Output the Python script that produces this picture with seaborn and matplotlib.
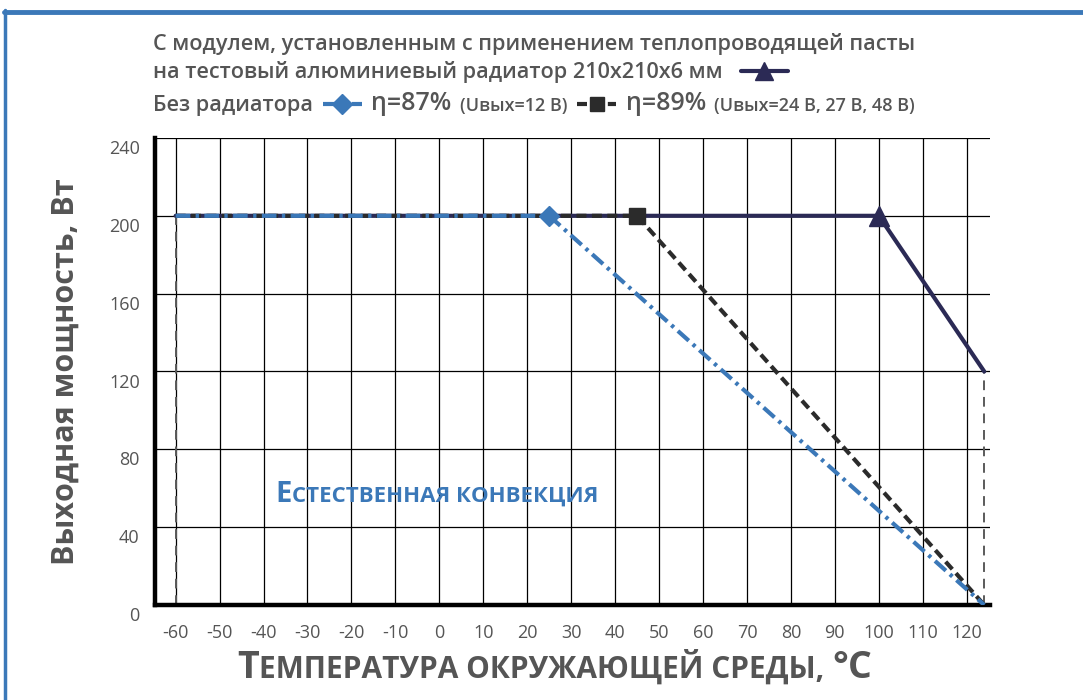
import matplotlib
matplotlib.use("Agg")
import matplotlib.pyplot as plt
import seaborn as sns
from matplotlib.lines import Line2D
from matplotlib.offsetbox import TextArea, DrawingArea, HPacker, AnchoredOffsetbox
from matplotlib.transforms import ScaledTranslation

# данные
t_rad = [-60, 100, 124]      # с радиатором
p_rad = [200, 200, 120]
t_87 = [-60, 25, 124]        # без радиатора, η=87%
p_87 = [200, 200, 0]
t_89 = [-60, 45, 124]        # без радиатора, η=89%
p_89 = [200, 200, 0]
edge_t = [-60, 124]          # границы рабочего диапазона
edge_p = [200, 120]
x_ticks = list(range(-60, 121, 10))
y_ticks = [0, 40, 80, 120, 160, 200, 240]

NAVY = '#2b2a55'
BLUE = '#3b78b8'
BLACK = '#2b2b2b'
GREY = '#555555'
DASHDOT = (0, (3.5, 1.3, 0.8, 1.3))
DASHED = (0, (2.4, 1.3))

sns.set_theme(style="white")
plt.rcParams['font.family'] = ['Open Sans', 'DejaVu Sans']
plt.rcParams['axes.unicode_minus'] = False

fig = plt.figure(figsize=(10.83, 7), dpi=100)
ax = fig.add_axes([0.1431, 0.1357, 0.771, 0.6672])

# рамка
fig.add_artist(Line2D([0.004, 1.0], [0.983, 0.983], transform=fig.transFigure, color=BLUE, lw=3.5))
fig.add_artist(Line2D([0.0043, 0.0043], [0.0, 0.986], transform=fig.transFigure, color=BLUE, lw=2.5))

ax.vlines(edge_t, 0, edge_p, colors='#5a5a5a', lw=1.4, linestyles=(0, (5, 3.5)), zorder=2)

sns.lineplot(x=t_rad, y=p_rad, ax=ax, color=NAVY, lw=3, marker='^', markersize=14,
             markevery=[1], markeredgecolor=NAVY, markeredgewidth=1, zorder=3)
sns.lineplot(x=t_89, y=p_89, ax=ax, color=BLACK, lw=3, linestyle=DASHED, marker='s',
             markersize=11, markevery=[1], markeredgecolor=BLACK, markeredgewidth=1, zorder=4)
sns.lineplot(x=t_87, y=p_87, ax=ax, color=BLUE, lw=3, linestyle=DASHDOT, marker='D',
             markersize=10, markevery=[1], markeredgecolor=BLUE, markeredgewidth=1, zorder=5)

ax.set_xlim(-64.7, 125.3)
ax.set_ylim(0, 240)
ax.set_xticks(x_ticks)
ax.set_yticks(y_ticks)
ax.set_xlabel('')
ax.set_ylabel('Выходная мощность, Вт', fontsize=22, weight='bold', color=GREY, labelpad=20)
ax.tick_params(length=0, labelsize=13, labelcolor=GREY)
ax.tick_params(axis='x', pad=14)
ax.tick_params(axis='y', pad=11)
for lab in ax.get_yticklabels():
    lab.set_transform(lab.get_transform() + ScaledTranslation(0, -6.5 / 72, fig.dpi_scale_trans))
ax.grid(True, color='black', lw=0.9)
ax.set_axisbelow(True)
for s in ['top', 'right']:
    ax.spines[s].set_visible(False)
for s in ['left', 'bottom']:
    ax.spines[s].set_color('black')
    ax.spines[s].set_linewidth(3.2)


def small_caps(first, rest, big, small, color, weight='bold'):
    return HPacker(children=[
        TextArea(first, textprops=dict(size=big, color=color, weight=weight)),
        TextArea(rest, textprops=dict(size=small, color=color, weight=weight)),
    ], align='baseline', pad=0, sep=0)


def key(color, ls, marker, ms, width=32):
    da = DrawingArea(width, 12, 0, 0)
    da.add_artist(Line2D([1, width / 2, width - 1], [5, 5, 5], color=color, lw=3, linestyle=ls,
                         marker=marker, markersize=ms, markevery=[1], markeredgecolor=color))
    return da


def place(box, x, y, loc='center left', transform=None):
    ab = AnchoredOffsetbox(loc=loc, child=box, pad=0, borderpad=0, frameon=False,
                           bbox_to_anchor=(x, y), bbox_transform=transform or fig.transFigure)
    fig.add_artist(ab) if transform is None else ax.add_artist(ab)


# подпись оси X в стиле капители
xl = HPacker(children=[
    TextArea('Т', textprops=dict(size=27, color=GREY, weight='bold')),
    TextArea('ЕМПЕРАТУРА ОКРУЖАЮЩЕЙ СРЕДЫ, ', textprops=dict(size=21.5, color=GREY, weight='bold')),
    TextArea('°С', textprops=dict(size=27, color=GREY, weight='bold')),
], align='baseline', pad=0, sep=0)
place(xl, 555 / 1083, 1 - 668 / 700, loc='center')

# надпись внутри графика
place(small_caps('Е', 'СТЕСТВЕННАЯ КОНВЕКЦИЯ', 21, 16, BLUE), -37.3, 57, transform=ax.transData)

# легенда сверху
tp = dict(size=15.6, color=GREY, weight='semibold')
ep = dict(size=18, color=GREY, weight='semibold')
sp = dict(size=13, color=GREY, weight='semibold')
fig.text(153 / 1083, 1 - 44 / 700, 'С модулем, установленным с применением теплопроводящей пасты',
         va='center', ha='left', **tp)
row2 = HPacker(children=[TextArea('на тестовый алюминиевый радиатор 210x210x6 мм', textprops=tp),
                         key(NAVY, '-', '^', 13, 36)], align='baseline', pad=0, sep=12)
place(row2, 153 / 1083, 1 - 72 / 700)
row3 = HPacker(children=[
    TextArea('Без радиатора', textprops=tp),
    key(BLUE, DASHDOT, 'D', 10, 30),
    TextArea('η=87%', textprops=ep),
    TextArea('(Uвых=12 В)', textprops=sp),
    key(BLACK, DASHED, 's', 10, 30),
    TextArea('η=89%', textprops=ep),
    TextArea('(Uвых=24 В, 27 В, 48 В)', textprops=sp),
], align='baseline', pad=0, sep=6)
place(row3, 153 / 1083, 1 - 104 / 700)

fig.savefig('out.png', dpi=100)
